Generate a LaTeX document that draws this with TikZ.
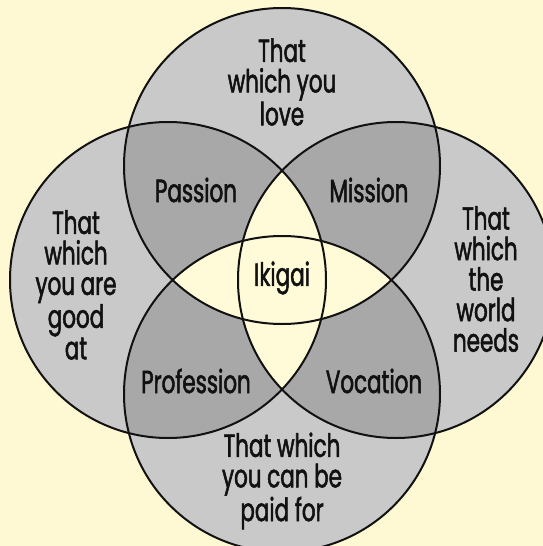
\documentclass[tikz,border=0pt]{standalone}
\usepackage{fontspec}
\setmainfont{Poppins}[FakeStretch=0.67,FakeBold=1.6]
\usepackage{tikz}
\usepackage{xcolor}
\usetikzlibrary{positioning}
\definecolor{Paper}{HTML}{FFF9D3}
\definecolor{Lens}{HTML}{FFFAD8}
\definecolor{Single}{HTML}{C9C9C9}
\definecolor{Pair}{HTML}{A8A8A8}
\definecolor{Ink}{HTML}{111111}
\tikzset{
  ring/.style={draw=Ink,line width=2pt},
  label/.style={align=center,text=Ink,inner sep=0pt,font=\fontsize{32}{30.5}\selectfont},
  word/.style={text=Ink,inner sep=0pt,font=\fontsize{32}{30.5}\selectfont}
}
\newcommand{\rad}{158pt}

\begin{document}
\begin{tikzpicture}[x=1pt,y=-1pt]
  \fill[Paper] (0,0) rectangle (543,546);
  \useasboundingbox (0,0) rectangle (543,546);
  \clip (0,0) rectangle (543,546);
  % circle centres
  \coordinate (love)  at (282,166);
  \coordinate (good)  at (168,280);
  \coordinate (world) at (396,280);
  \coordinate (paid)  at (282,394);
  \fill[Single] (love) circle[radius=\rad] (good) circle[radius=\rad]
    (world) circle[radius=\rad] (paid) circle[radius=\rad];
  % two circles
  \begin{scope}
    \clip (love) circle[radius=\rad];
    \fill[Pair] (good) circle[radius=\rad] (world) circle[radius=\rad];
  \end{scope}
  \begin{scope}
    \clip (paid) circle[radius=\rad];
    \fill[Pair] (good) circle[radius=\rad] (world) circle[radius=\rad];
  \end{scope}
  % three or four circles
  \begin{scope}
    \clip (love) circle[radius=\rad];
    \fill[Lens] (paid) circle[radius=\rad];
  \end{scope}
  \begin{scope}
    \clip (good) circle[radius=\rad];
    \fill[Lens] (world) circle[radius=\rad];
  \end{scope}
  \foreach \c in {love,good,world,paid}
    \draw[ring] (\c) circle[radius=\rad];

  \node[label] (lovetxt)  at (282,82)  {That\\which you\\love};
  \node[label] (goodtxt)  at (76,285)  {That\\which\\you are\\good\\at};
  \node[label] (worldtxt) at (486,279) {That\\which\\the\\world\\needs};
  \node[label] (paidtxt)  at (282,481) {That which\\you can be\\paid for};
  \node[word] (passion)    at (196,190) {Passion};
  \node[word] (mission)    at (369,190) {Mission};
  \node[word] (ikigai)     at (282,278) {Ikigai};
  \node[word] (profession) at (196,381) {Profession};
  \node[word] (vocation)   at (374,381) {Vocation};
\end{tikzpicture}
\end{document}
